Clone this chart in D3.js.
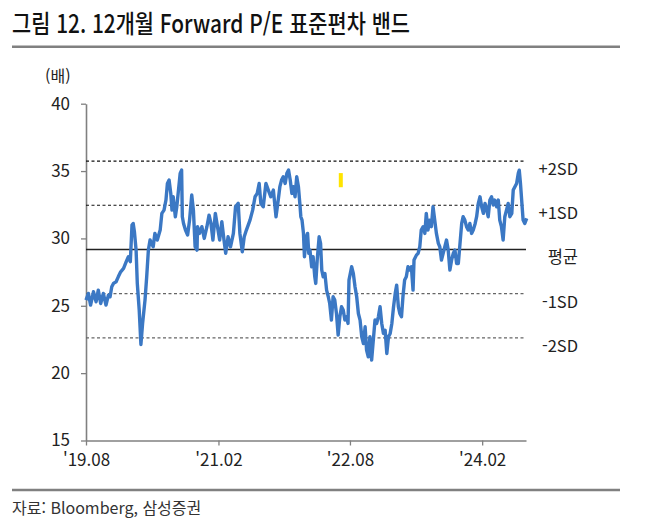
<!DOCTYPE html>
<html lang="ko">
<head>
<meta charset="utf-8">
<title>12개월 Forward P/E 표준편차 밴드</title>
<script src="https://d3js.org/d3.v7.min.js"></script>
<style>
  html, body { margin: 0; padding: 0; background: #fff; }
  svg text { font-family: "Noto Sans CJK KR", "Noto Sans", sans-serif; }
</style>
</head>
<body>
<div id="chart"></div>
<script>
// 12m forward P/E
const dates = [
  "2019-08-01","2019-08-11","2019-08-20","2019-09-01","2019-09-12","2019-09-21","2019-10-01","2019-10-12","2019-10-23","2019-11-02",
  "2019-11-09","2019-11-16","2019-11-23","2019-12-04","2019-12-13","2019-12-23","2020-01-04","2020-01-15","2020-01-24","2020-02-01",
  "2020-02-08","2020-02-13","2020-02-18","2020-02-25","2020-03-01","2020-03-09","2020-03-16","2020-03-23","2020-04-02","2020-04-09",
  "2020-04-16","2020-04-23","2020-05-06","2020-05-13","2020-05-23","2020-06-04","2020-06-11","2020-06-20","2020-06-28","2020-07-04",
  "2020-07-11","2020-07-18","2020-07-23","2020-07-28","2020-08-06","2020-08-12","2020-08-19","2020-08-26","2020-09-01","2020-09-04",
  "2020-09-09","2020-09-17","2020-09-26","2020-10-04","2020-10-13","2020-10-20","2020-10-27","2020-11-04","2020-11-06","2020-11-14",
  "2020-11-24","2020-12-04","2020-12-15","2020-12-24","2021-01-01","2021-01-09","2021-01-19","2021-01-28","2021-02-06","2021-02-15",
  "2021-02-24","2021-03-03","2021-03-13","2021-03-23","2021-04-04","2021-04-13","2021-04-24","2021-05-01","2021-05-11","2021-05-19",
  "2021-05-28","2021-06-12","2021-06-23","2021-07-03","2021-07-12","2021-07-20","2021-07-27","2021-08-06","2021-08-17","2021-08-27",
  "2021-09-06","2021-09-17","2021-09-28","2021-10-08","2021-10-14","2021-10-21","2021-10-28","2021-11-05","2021-11-12","2021-11-19",
  "2021-11-26","2021-12-03","2021-12-09","2021-12-16","2021-12-23","2021-12-30","2022-01-06","2022-01-09","2022-01-14","2022-01-20",
  "2022-01-24","2022-02-01","2022-02-06","2022-02-11","2022-02-16","2022-02-23","2022-03-01","2022-03-08","2022-03-12","2022-03-18",
  "2022-03-26","2022-04-01","2022-04-06","2022-04-12","2022-04-19","2022-04-26","2022-05-03","2022-05-09","2022-05-16","2022-05-23",
  "2022-05-30","2022-06-06","2022-06-13","2022-06-20","2022-06-27","2022-07-04","2022-07-11","2022-07-18","2022-07-24","2022-07-28",
  "2022-08-08","2022-08-15","2022-08-22","2022-08-29","2022-09-05","2022-09-12","2022-09-19","2022-09-26","2022-10-03","2022-10-09",
  "2022-10-16","2022-10-23","2022-10-30","2022-11-06","2022-11-13","2022-11-20","2022-11-27","2022-12-04","2022-12-11","2022-12-18",
  "2022-12-25","2023-01-01","2023-01-08","2023-01-15","2023-01-22","2023-01-29","2023-02-05","2023-02-11","2023-02-18","2023-02-24",
  "2023-03-03","2023-03-09","2023-03-16","2023-03-23","2023-03-30","2023-04-06","2023-04-13","2023-04-20","2023-04-24","2023-05-04",
  "2023-05-11","2023-05-18","2023-05-24","2023-06-01","2023-06-08","2023-06-14","2023-06-21","2023-06-28","2023-07-05","2023-07-12",
  "2023-07-19","2023-07-26","2023-08-03","2023-08-09","2023-08-16","2023-08-23","2023-08-30","2023-09-06","2023-09-13","2023-09-20",
  "2023-09-27","2023-10-04","2023-10-11","2023-10-18","2023-10-25","2023-11-01","2023-11-08","2023-11-14","2023-11-21","2023-11-28",
  "2023-12-05","2023-12-12","2023-12-19","2023-12-26","2024-01-03","2024-01-09","2024-01-16","2024-01-23","2024-01-30","2024-02-06",
  "2024-02-13","2024-02-20","2024-02-26","2024-03-04","2024-03-11","2024-03-18","2024-03-24","2024-04-01","2024-04-08","2024-04-14",
  "2024-04-21","2024-04-28","2024-05-05","2024-05-12","2024-05-19","2024-05-26","2024-06-03","2024-06-09","2024-06-16","2024-06-23",
  "2024-06-30","2024-07-04","2024-07-09","2024-07-14","2024-07-20","2024-07-27","2024-08-04"
];
const per = [
  25.42,25.92,25.05,26.04,25.30,26.16,25.17,25.92,25.05,25.79,
  25.67,26.41,26.66,26.78,27.15,27.52,27.77,28.27,28.64,28.27,
  30.99,31.11,30.50,29.13,26.66,24.68,22.13,23.69,25.42,27.15,
  29.13,29.88,29.38,30.37,29.88,30.62,31.86,32.10,32.85,34.08,
  34.33,33.34,32.10,33.09,31.61,32.35,33.59,34.83,35.07,31.61,
  31.11,30.62,30.25,31.36,33.22,32.10,29.38,29.13,30.87,30.37,
  30.87,30.00,30.87,31.73,31.11,29.88,31.86,30.87,29.88,31.24,
  29.88,28.89,30.12,29.38,30.37,32.35,32.60,30.37,29.01,30.12,
  30.62,31.36,32.10,33.09,33.34,34.08,32.60,32.35,34.08,33.59,
  33.09,33.59,31.61,32.97,33.84,34.33,34.58,34.08,34.83,35.07,
  34.33,33.34,33.84,33.09,34.58,33.84,32.35,31.61,31.36,30.37,
  28.64,30.12,30.37,28.89,29.13,27.90,28.64,27.15,26.66,28.39,
  30.12,29.63,27.65,27.15,27.40,26.16,25.67,25.17,23.94,25.67,
  25.42,24.43,22.82,24.18,24.93,24.68,23.94,24.18,23.69,26.91,
  27.90,27.40,26.41,25.67,24.43,23.94,22.70,22.20,23.44,21.71,
  21.21,22.70,20.97,22.45,23.94,23.69,24.18,24.93,23.69,22.95,
  23.19,21.46,22.70,22.95,23.69,24.93,25.92,26.53,24.93,24.43,
  24.18,25.67,26.91,27.15,27.90,27.65,27.90,26.16,28.39,28.76,
  28.89,29.38,30.62,30.87,30.37,31.86,30.62,31.36,30.87,32.35,
  31.36,30.37,29.63,29.38,28.39,28.89,29.38,29.88,29.13,27.65,
  28.39,28.89,29.13,28.14,28.14,29.63,31.11,31.61,31.36,30.87,
  30.62,31.11,30.37,30.62,31.11,31.61,32.60,33.09,32.35,31.86,
  32.60,32.10,31.61,32.85,33.09,32.48,32.85,32.35,32.85,31.36,
  30.87,29.88,31.61,32.10,32.60,31.61,31.86,33.59,33.84,34.08,
  34.83,35.07,34.08,32.85,31.36,31.11,31.49
];
// standard deviation bands
const bandNames = ["+2SD", "+1SD", "평균", "-1SD", "-2SD"];
const bandValues = [35.74, 32.46, 29.18, 25.90, 22.62];
const tickDates = ["2019-08-01", "2021-02-01", "2022-08-01", "2024-02-01"];
const tickLabels = ["'19.08", "'21.02", "'22.08", "'24.02"];
const yTicks = [15, 20, 25, 30, 35, 40];
// little yellow marker left in the source picture
const markDate = "2022-06-24";
const markRange = [33.8, 34.85];

const parseTime = d3.timeParse("%Y-%m-%d");
const data = dates.map((d, i) => ({ date: parseTime(d), value: per[i] }));

const W = 656, H = 530;
const margin = { top: 103.7, left: 86 },
      width = 440, height = 336.8;

const svg = d3.select("#chart").append("svg")
    .attr("width", W).attr("height", H);

// title + rules
svg.append("text")
    .attr("x", 12).attr("y", 33)
    .attr("textLength", 398).attr("lengthAdjust", "spacingAndGlyphs")
    .style("font-size", "25px").style("font-weight", 500).style("fill", "#111")
    .text("그림 12. 12개월 Forward P/E 표준편차 밴드");
svg.append("line").attr("x1", 12).attr("x2", 620).attr("y1", 46.7).attr("y2", 46.7)
    .attr("stroke", "#808080").attr("stroke-width", 2.5);
svg.append("line").attr("x1", 12).attr("x2", 620).attr("y1", 490).attr("y2", 490)
    .attr("stroke", "#808080").attr("stroke-width", 2.5);
svg.append("text")
    .attr("x", 12).attr("y", 514)
    .style("font-size", "16px").style("fill", "#333")
    .text("자료: Bloomberg, 삼성증권");

const g = svg.append("g").attr("transform", `translate(${margin.left},${margin.top})`);

const x = d3.scaleTime()
    .domain([parseTime("2019-08-01"), parseTime("2024-08-01")])
    .range([0, width]);
const y = d3.scaleLinear().domain([15, 40]).range([height, 0]);

// unit
g.append("text").attr("x", -41).attr("y", -22)
    .style("font-size", "16px").style("fill", "#222").text("(배)");

// axes
const xAxis = g.append("g").attr("transform", `translate(0,${height})`)
    .call(d3.axisBottom(x)
        .tickValues(tickDates.map(parseTime))
        .tickFormat((d, i) => tickLabels[i])
        .tickSize(5).tickSizeOuter(0).tickPadding(8));
const yAxis = g.append("g")
    .call(d3.axisLeft(y).tickValues(yTicks).tickSize(5).tickSizeOuter(0).tickPadding(11));
[xAxis, yAxis].forEach(a => {
  a.select(".domain").attr("stroke", "#808080").attr("stroke-width", 1.6);
  a.selectAll(".tick line").attr("stroke", "#808080").attr("stroke-width", 1.3);
  a.selectAll(".tick text").style("font-size", "17px").style("fill", "#222");
});

// band lines
g.selectAll(".band").data(bandValues).enter().append("line")
    .attr("class", "band")
    .attr("x1", 0).attr("x2", width)
    .attr("y1", d => y(d)).attr("y2", d => y(d))
    .attr("stroke", (d, i) => i < 2 ? "#111" : (i === 2 ? "#222" : "#666"))
    .attr("stroke-width", (d, i) => i === 2 ? 1.4 : 1.1)
    .attr("stroke-dasharray", (d, i) => i === 2 ? null : "3,2.5");

g.selectAll(".bandlabel").data(bandValues).enter().append("text")
    .attr("class", "bandlabel")
    .attr("x", width + 52)
    .attr("y", d => y(d) + 14)
    .attr("text-anchor", "end")
    .style("font-size", "16.5px").style("fill", "#222")
    .text((d, i) => bandNames[i]);

// P/E line
g.append("path")
    .datum(data)
    .attr("fill", "none")
    .attr("stroke", "#3b78c4")
    .attr("stroke-width", 3.4)
    .attr("stroke-linejoin", "round")
    .attr("d", d3.line().x(d => x(d.date)).y(d => y(d.value)));

g.append("rect")
    .attr("x", x(parseTime(markDate)) - 2)
    .attr("y", y(markRange[1]))
    .attr("width", 4)
    .attr("height", y(markRange[0]) - y(markRange[1]))
    .attr("fill", "#ffe400");
</script>
</body>
</html>
